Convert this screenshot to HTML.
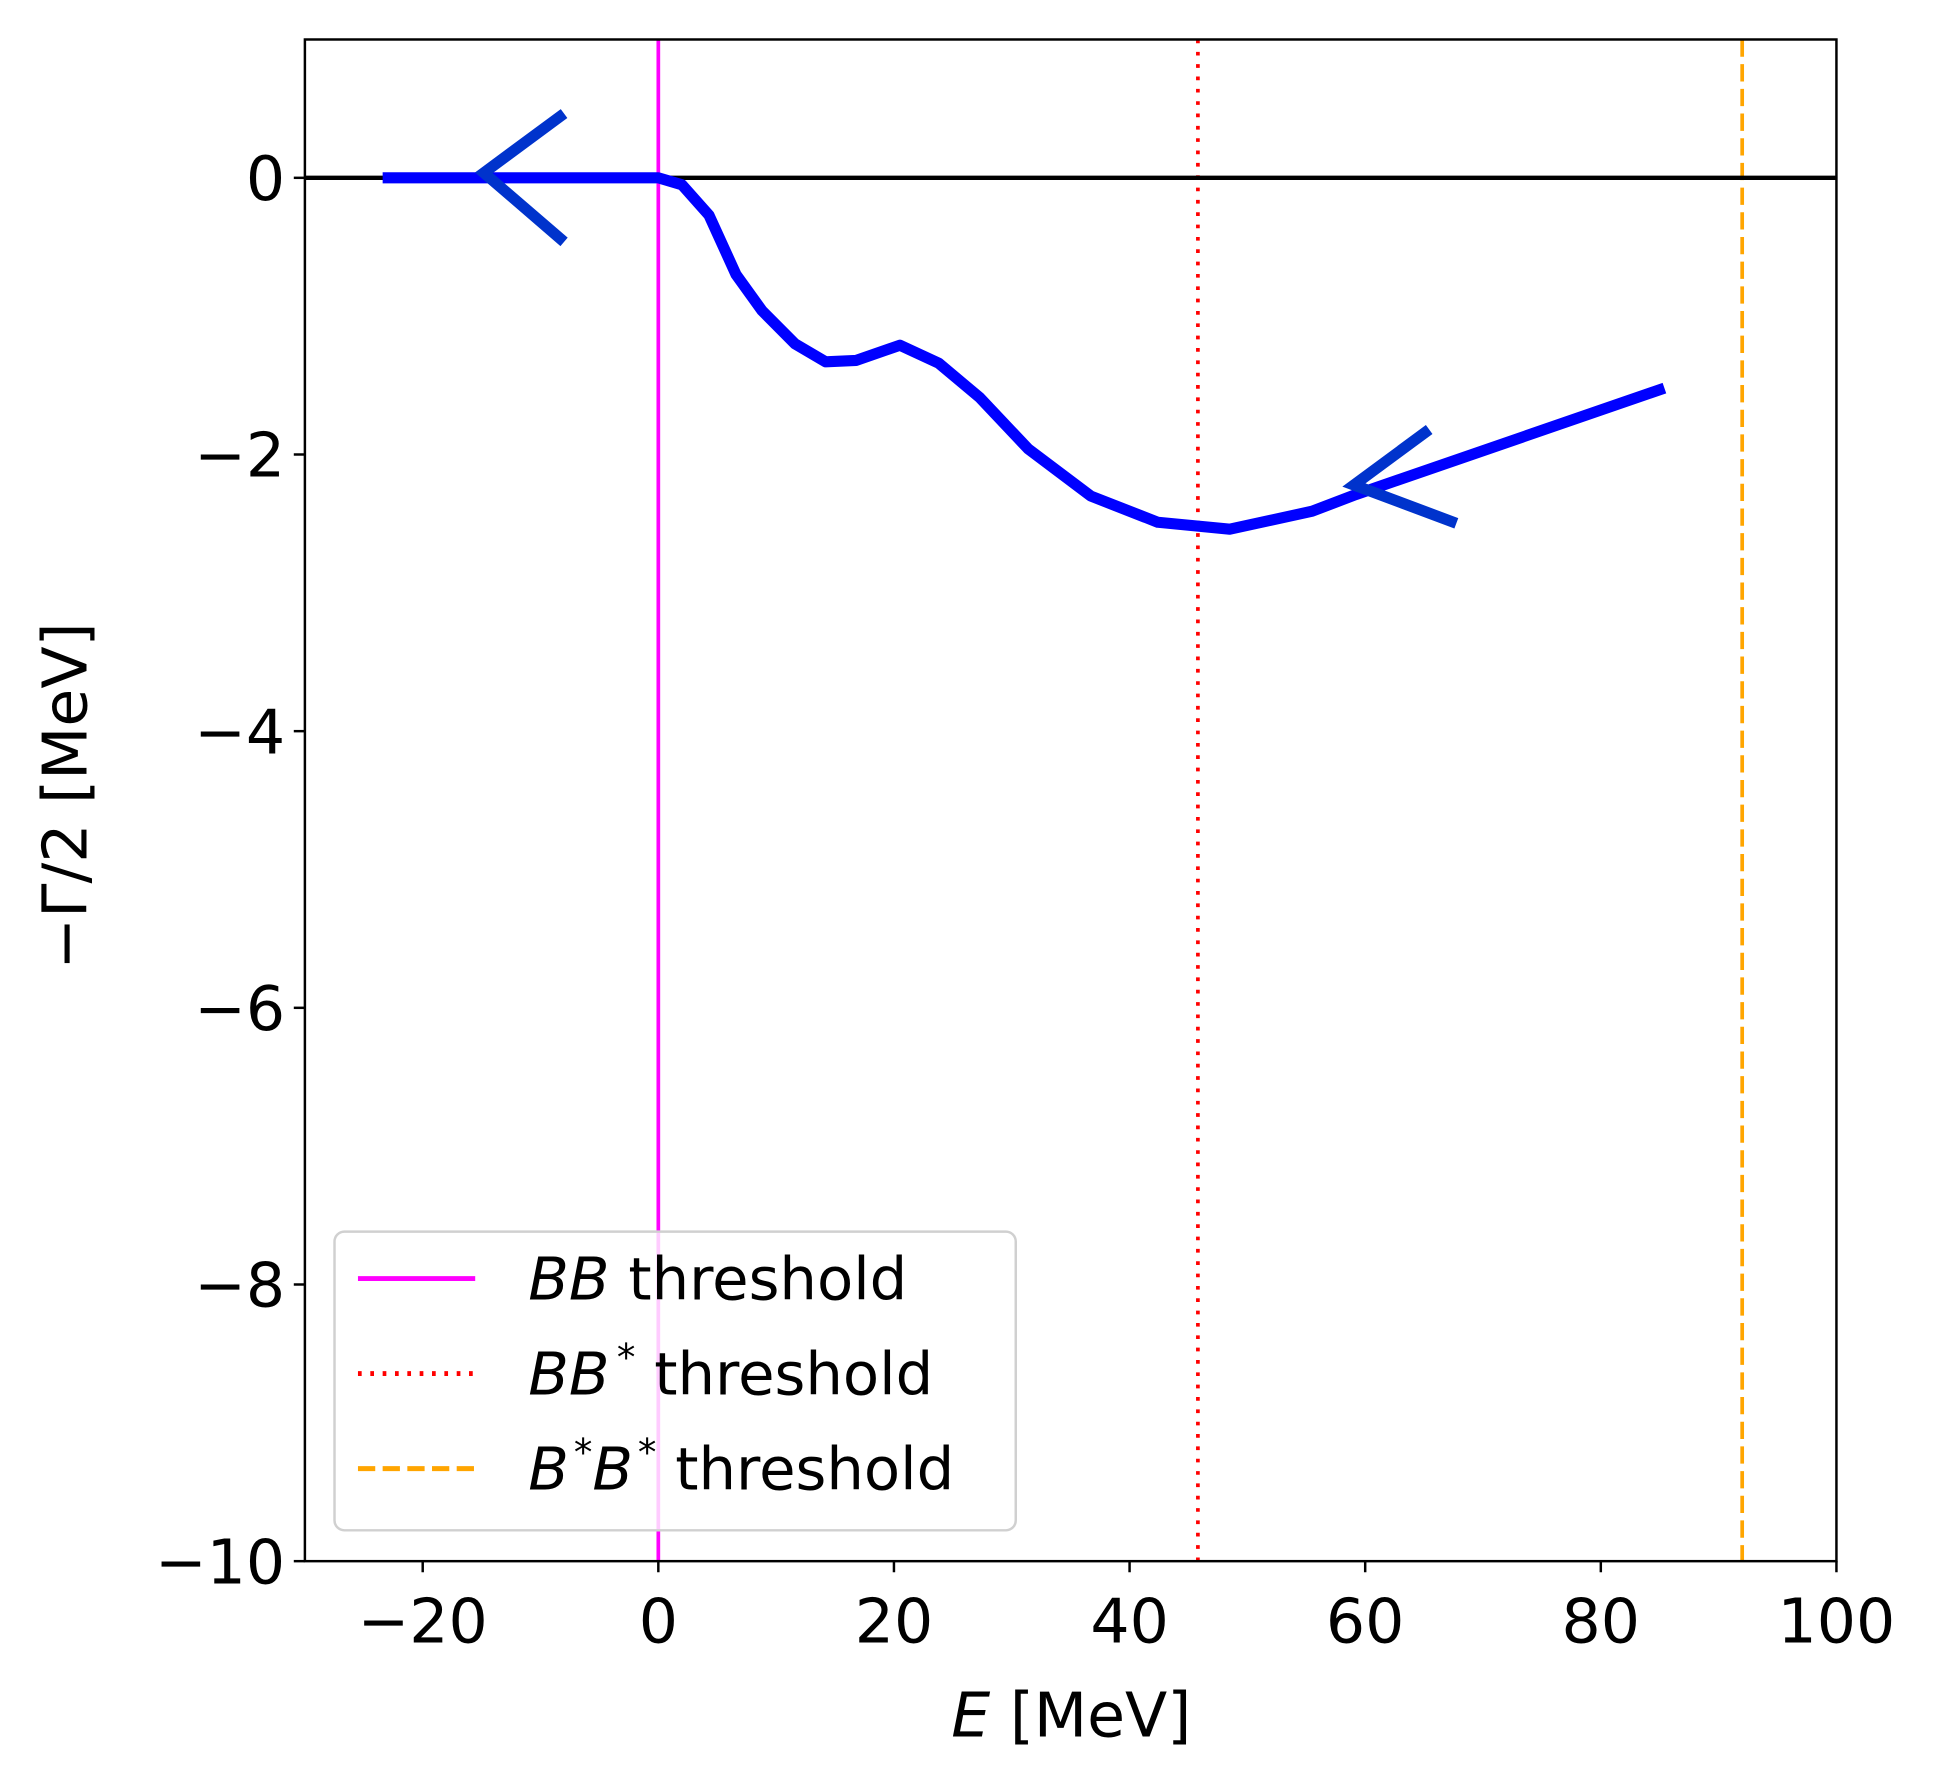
<!DOCTYPE html>
<html><head><meta charset="utf-8"><style>
html,body{margin:0;padding:0;background:#fff;}
svg{display:block;font-family:"DejaVu Sans","Liberation Sans",sans-serif;}
</style></head><body>
<svg id="chart" width="1934" height="1787" viewBox="0 0 1567 1448" xmlns="http://www.w3.org/2000/svg">
<g id="plot"></g>
</svg>
<script>
const energies = [-23.4, 0, 2, 4.3, 6.6, 8.8, 11.6, 14.2, 16.8, 20.5, 23.8, 27.3, 31.4, 36.7, 42.4, 48.5, 55.5, 59.2, 85.4];
const halfWidths = [0, 0, -0.05, -0.27, -0.7, -0.96, -1.2, -1.33, -1.32, -1.21, -1.34, -1.59, -1.96, -2.3, -2.49, -2.54, -2.41, -2.29, -1.52];
const xTicks = [-20, 0, 20, 40, 60, 80, 100];
const yTicks = [0, -2, -4, -6, -8, -10];
const thresholds = [0, 45.8, 92];

const NS = "http://www.w3.org/2000/svg";
const L = 247, R = 1488, T = 32, B = 1265;
const xMin = -30, xMax = 100, yMin = -10, yMax = 1;
const sx = v => L + (v - xMin) / (xMax - xMin) * (R - L);
const sy = v => B - (v - yMin) / (yMax - yMin) * (B - T);
const g = document.getElementById('plot');
function mk(tag, attrs, parent) {
  const e = document.createElementNS(NS, tag);
  for (const k in attrs) e.setAttribute(k, attrs[k]);
  (parent || g).appendChild(e);
  return e;
}
function txt(s, x, y, anchor, size, parent) {
  const t = mk('text', {x: x, y: y, 'text-anchor': anchor, 'font-size': size, fill: '#000'}, parent);
  t.textContent = s;
  return t;
}
const thrStyles = [
  {stroke: '#ff00ff', dash: 'none', name: 'bb-threshold-line'},
  {stroke: '#ff0000', dash: '3 7', name: 'bbstar-threshold-line'},
  {stroke: '#ffa500', dash: '14 6', name: 'bstarbstar-threshold-line'}
];
thresholds.forEach((v, i) => {
  const l = mk('line', {x1: sx(v), x2: sx(v), y1: T, y2: B, stroke: thrStyles[i].stroke, 'stroke-width': 3, 'stroke-dasharray': thrStyles[i].dash});
  
  
});
const z = mk('line', {x1: L, x2: R, y1: sy(0), y2: sy(0), stroke: '#000', 'stroke-width': 3.5});


const pts = energies.map((e, i) => sx(e) + ',' + sy(halfWidths[i])).join(' ');
const curve = mk('polyline', {points: pts, fill: 'none', stroke: '#0000ff', 'stroke-width': 9, 'stroke-linejoin': 'round'});


const a1 = mk('polyline', {points: '457,92 392,140 457,196', fill: 'none', stroke: '#0033cc', 'stroke-width': 9});


const a2 = mk('polyline', {points: '1158,348 1097,393 1180,424', fill: 'none', stroke: '#0033cc', 'stroke-width': 9});


const fr = mk('rect', {x: L, y: T, width: R - L, height: B - T, fill: 'none', stroke: '#000', 'stroke-width': 2});


xTicks.forEach(v => {
  mk('line', {x1: sx(v), x2: sx(v), y1: B, y2: B + 9, stroke: '#000', 'stroke-width': 2});
  const t = txt(String(v).replace('-', '\u2212'), sx(v), B + 66, 'middle', 50);
  
  
});
yTicks.forEach(v => {
  mk('line', {x1: L - 9, x2: L, y1: sy(v), y2: sy(v), stroke: '#000', 'stroke-width': 2});
  const t = txt(String(v).replace('-', '\u2212'), L - 16, sy(v) + 18, 'end', 50);
  
  
});
const xt = mk('text', {x: 868, y: 1407, 'text-anchor': 'middle', 'font-size': 50});
xt.innerHTML = '<tspan font-style="italic">E</tspan> [MeV]';


const yt = mk('text', {x: 0, y: 0, 'text-anchor': 'middle', 'font-size': 50, transform: 'translate(70,645) rotate(-90)'});
yt.textContent = '\u2212\u0393/2 [MeV]';


const lg = mk('g', {});


mk('rect', {x: 271, y: 998, width: 552, height: 242, rx: 8, fill: 'rgba(255,255,255,0.8)', stroke: '#d0d0d0', 'stroke-width': 2}, lg);
const labels = [
  '<tspan font-style="italic">BB</tspan> threshold',
  '<tspan font-style="italic">BB</tspan><tspan dx="6" dy="-20" font-size="30">*</tspan><tspan dy="20"> threshold</tspan>',
  '<tspan font-style="italic">B</tspan><tspan dx="4" dy="-20" font-size="30">*</tspan><tspan dy="20" font-style="italic">B</tspan><tspan dx="4" dy="-20" font-size="30">*</tspan><tspan dy="20"> threshold</tspan>'
];
[1036, 1113, 1190].forEach((y, i) => {
  const e = mk('g', {}, lg);
  
  
  mk('line', {x1: 290, x2: 385, y1: y, y2: y, stroke: thrStyles[i].stroke, 'stroke-width': 4, 'stroke-dasharray': thrStyles[i].dash}, e);
  const t = mk('text', {x: 428, y: y + 17, 'font-size': 48}, e);
  t.innerHTML = labels[i];
});
</script>
</body></html>
